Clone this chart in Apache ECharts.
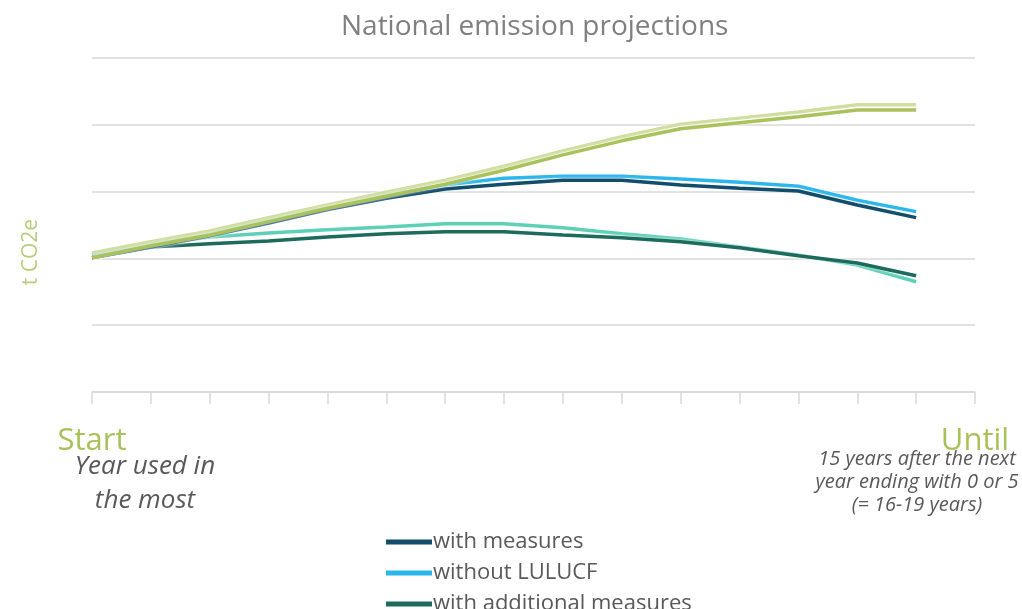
<!DOCTYPE html>
<html><head><meta charset="utf-8">
<script src="https://cdn.jsdelivr.net/npm/echarts@6/dist/echarts.min.js"></script>
<style>html,body{margin:0;padding:0;background:#fff}#c{width:1022px;height:609px}</style>
</head><body><div id="c"></div>
<script>
const categories = ['Start','','','','','','','','','','','','','','','Until'];
const withMeasures = [2.01,2.17,2.34,2.53,2.73,2.90,3.04,3.11,3.17,3.17,3.10,3.05,3.01,2.80,2.61];
const withoutLULUCF = [2.05,2.22,2.38,2.58,2.77,2.95,3.10,3.20,3.23,3.23,3.19,3.14,3.08,2.87,2.70];
const withAdditional = [2.01,2.17,2.22,2.26,2.32,2.37,2.40,2.40,2.35,2.31,2.25,2.16,2.04,1.93,1.74];
const withAdditionalNoLULUCF = [2.05,2.20,2.32,2.38,2.43,2.47,2.52,2.52,2.46,2.37,2.29,2.17,2.05,1.90,1.65];
const olive = [2.01,2.19,2.35,2.55,2.75,2.93,3.11,3.32,3.55,3.76,3.94,4.03,4.12,4.22,4.22];
const lightOlive = [2.08,2.25,2.41,2.61,2.80,2.99,3.17,3.38,3.61,3.82,4.01,4.10,4.19,4.30,4.30];
const legendNames = ['with measures','without LULUCF','with additional measures'];

const mk = (name, data, color, z) => ({
  name, type:'line', data, symbol:'none', z,
  lineStyle:{color, width:3.5, shadowColor:'rgba(255,255,255,0.9)', shadowBlur:3},
  itemStyle:{color}
});
const chart = echarts.init(document.getElementById('c'));
chart.setOption({
  animation:false,
  title:{text:'National emission projections', left:336, top:8,
    textStyle:{fontFamily:'Open Sans', fontWeight:'normal', fontSize:28, color:'#7f7f7f'}},
  grid:{left:92, right:47, top:58, bottom:217},
  legend:{data:legendNames, orient:'vertical', left:381, top:525, height:150, itemWidth:46, itemHeight:5,
    icon:'rect', itemGap:7, textStyle:{fontFamily:'Open Sans', fontSize:22, lineHeight:24, color:'#595959', padding:[0,0,0,-4]}},
  xAxis:{type:'category', data:categories, boundaryGap:false,
    axisLine:{lineStyle:{color:'#d9d9d9', width:1.5}},
    axisTick:{show:true, length:12, interval:0, lineStyle:{color:'#d9d9d9', width:1.5}},
    axisLabel:{interval:0, margin:34, fontFamily:'Open Sans', fontSize:31, color:'#a8c25a'}},
  yAxis:{type:'value', min:0, max:5, interval:1, name:'t CO2e', nameLocation:'middle', nameGap:50,
    nameTextStyle:{fontFamily:'Open Sans', fontSize:21, color:'#b9cd7e', padding:[0,54,0,0]},
    axisLabel:{show:false}, axisLine:{show:false}, axisTick:{show:false},
    splitLine:{lineStyle:{color:'#d9d9d9', width:1.5}}},
  graphic:[
    {type:'text', x:145, y:450, style:{text:'Year used in\nthe most', fontFamily:'Open Sans', fontStyle:'italic',
      fontSize:26, lineHeight:34, fill:'#595959', align:'center'}},
    {type:'text', x:917, y:448, style:{text:'15 years after the next\nyear ending with 0 or 5\n(= 16-19 years)', fontFamily:'Open Sans',
      fontStyle:'italic', fontSize:20, lineHeight:23, fill:'#595959', align:'center'}}
  ],
  series:[
    mk('with additional measures without LULUCF', withAdditionalNoLULUCF, '#5fd0b8', 2),
    mk('with additional measures', withAdditional, '#1d6b5d', 3),
    mk('without LULUCF', withoutLULUCF, '#2bb6ec', 4),
    mk('with measures', withMeasures, '#124d6c', 5),
    mk('without measures without LULUCF', lightOlive, '#cfdda0', 6),
    mk('without measures', olive, '#aac25c', 7)
  ]
});
</script></body></html>
